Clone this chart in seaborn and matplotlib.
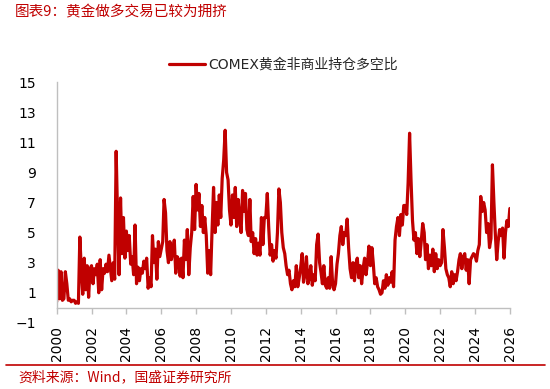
import numpy as np
import pandas as pd
import matplotlib
matplotlib.use("Agg")
import matplotlib.pyplot as plt
import seaborn as sns

# Monthly readings (Jan..Dec) of COMEX gold non-commercial long/short ratio
v2000 = [0.4, 2.5, 0.6, 2.4, 0.5, 0.6, 2.4, 1.6, 0.5, 0.6, 0.4, 0.5]
v2001 = [0.5, 0.3, 0.4, 0.3, 4.7, 2.5, 0.9, 3.3, 1.2, 2.8, 0.7, 2.6]
v2002 = [2.8, 1.6, 2.6, 2.2, 2.9, 1.0, 3.2, 1.2, 2.6, 2.3, 2.9, 2.4]
v2003 = [3.5, 2.6, 1.8, 3.0, 1.9, 10.4, 6.0, 2.2, 7.3, 3.6, 6.0, 3.3]
v2004 = [5.1, 3.8, 4.8, 2.9, 3.4, 2.2, 5.5, 1.6, 2.7, 1.8, 2.6, 2.3]
v2005 = [3.1, 2.6, 3.3, 1.3, 2.0, 1.4, 4.8, 3.0, 3.9, 1.9, 4.4, 3.4]
v2006 = [3.9, 4.4, 7.2, 6.3, 3.8, 3.0, 4.4, 3.2, 3.8, 4.5, 2.3, 3.4]
v2007 = [3.2, 2.1, 3.3, 2.0, 4.5, 3.2, 5.2, 2.2, 4.0, 5.0, 7.4, 5.2]
v2008 = [8.2, 6.5, 7.6, 5.4, 6.8, 5.0, 6.0, 4.8, 2.3, 3.8, 2.2, 5.2]
v2009 = [8.0, 5.0, 7.0, 5.5, 7.5, 6.0, 8.6, 9.8, 11.8, 9.0, 8.5, 6.5]
v2010 = [5.5, 7.5, 6.0, 8.0, 5.4, 7.2, 6.0, 5.0, 7.8, 6.4, 7.6, 5.2]
v2011 = [4.8, 7.2, 4.4, 5.0, 3.6, 4.6, 3.5, 4.3, 3.5, 6.0, 4.2, 6.0]
v2012 = [6.0, 7.6, 5.4, 3.5, 4.2, 3.1, 3.8, 3.3, 5.0, 7.9, 7.0, 5.0]
v2013 = [4.0, 3.6, 2.8, 2.2, 2.5, 1.6, 1.2, 1.8, 1.4, 2.8, 1.4, 2.0]
v2014 = [2.7, 3.6, 1.7, 2.2, 3.4, 1.6, 2.0, 2.8, 1.5, 2.2, 1.8, 4.2]
v2015 = [4.9, 3.0, 2.4, 1.6, 2.8, 1.5, 1.3, 2.0, 1.3, 3.4, 1.6, 1.2]
v2016 = [1.6, 2.9, 3.6, 4.8, 5.4, 4.2, 5.0, 4.8, 5.9, 4.0, 2.6, 2.0]
v2017 = [3.0, 1.8, 2.9, 3.3, 2.0, 2.8, 1.6, 2.6, 3.3, 2.2, 3.0, 4.1]
v2018 = [2.8, 4.0, 3.0, 1.6, 2.0, 1.4, 1.2, 0.9, 1.0, 1.8, 1.3, 2.2]
v2019 = [1.5, 2.0, 1.7, 2.4, 1.4, 4.5, 5.4, 6.0, 4.8, 6.2, 5.5, 6.8]
v2020 = [6.8, 6.2, 8.3, 11.6, 8.5, 5.8, 4.5, 5.0, 3.6, 4.6, 3.4, 4.4]
v2021 = [5.6, 5.0, 3.2, 4.2, 2.6, 3.5, 2.8, 3.9, 2.4, 3.6, 2.6, 3.2]
v2022 = [2.8, 3.0, 5.2, 4.0, 2.6, 2.2, 2.0, 1.4, 2.4, 1.6, 2.2, 1.8]
v2023 = [2.4, 3.2, 3.6, 2.6, 3.4, 3.6, 2.5, 3.2, 1.6, 3.2, 3.4, 3.6]
v2024 = [3.5, 3.1, 3.8, 4.2, 7.4, 6.4, 7.0, 6.5, 5.0, 5.6, 4.0, 4.6]
v2025 = [9.5, 7.0, 5.0, 3.2, 4.4, 5.2, 4.8, 5.3, 3.3, 5.0, 5.8, 5.4]
v2026 = [6.6]

values = (v2000 + v2001 + v2002 + v2003 + v2004 + v2005 + v2006 + v2007 + v2008
          + v2009 + v2010 + v2011 + v2012 + v2013 + v2014 + v2015 + v2016 + v2017
          + v2018 + v2019 + v2020 + v2021 + v2022 + v2023 + v2024 + v2025 + v2026)
dates = pd.date_range("2000-01-01", periods=len(values), freq="MS")
df = pd.DataFrame({"date": dates, "ratio": values})

series_label = "COMEX黄金非商业持仓多空比"
title_text = "图表9：黄金做多交易已较为拥挤"
source_text = "资料来源：Wind，国盛证券研究所"
year_ticks = list(range(2000, 2027, 2))
y_ticks = list(range(-1, 16, 2))

sns.set_theme(style="white")
plt.rcParams["font.family"] = ["DejaVu Sans", "Noto Sans CJK SC"]

RED = "#C00000"
fig = plt.figure(figsize=(5.5, 3.89), dpi=100)
ax = fig.add_axes([0.103, 0.170, 0.824, 0.619])

sns.lineplot(data=df, x="date", y="ratio", color=RED, linewidth=2.3,
             label=series_label, ax=ax)

for s in ["top", "right"]:
    ax.spines[s].set_visible(False)
ax.spines["left"].set_bounds(0, 15)
ax.spines["bottom"].set_position(("data", 0))
for s in ["left", "bottom"]:
    ax.spines[s].set_color("#BFBFBF")
    ax.spines[s].set_linewidth(1.0)

ax.set_ylim(-1, 15)
ax.set_yticks(y_ticks)
ax.set_xlim(pd.Timestamp("2000-01-01"), pd.Timestamp("2026-01-01"))
ax.set_xticks([pd.Timestamp(f"{y}-01-01") for y in year_ticks])
ax.set_xticklabels([str(y) for y in year_ticks])
ax.set_xlabel("")
ax.set_ylabel("")

ax.tick_params(axis="x", length=4, width=1, color="#BFBFBF", pad=9,
               labelsize=10, labelcolor="#000000", direction="out",
               bottom=True, labelrotation=90)
ax.tick_params(axis="y", length=0, pad=15, labelsize=10, labelcolor="#000000")

leg = ax.legend(loc="lower center", bbox_to_anchor=(0.50, 1.02), frameon=False,
                fontsize=10, handlelength=2.6, handletextpad=0.2,
                borderaxespad=0)

fig.text(0.027, 0.968, title_text, color=RED, fontsize=10.5,
         ha="left", va="center", family=["Noto Sans CJK SC", "DejaVu Sans"])
fig.add_artist(plt.Line2D([0.01, 0.99], [0.062, 0.062], color=RED,
                          linewidth=1.2, transform=fig.transFigure))
fig.text(0.033, 0.030, source_text, color=RED, fontsize=10,
         ha="left", va="center", family=["Noto Sans CJK SC", "DejaVu Sans"])

fig.savefig("out.png", dpi=100)
